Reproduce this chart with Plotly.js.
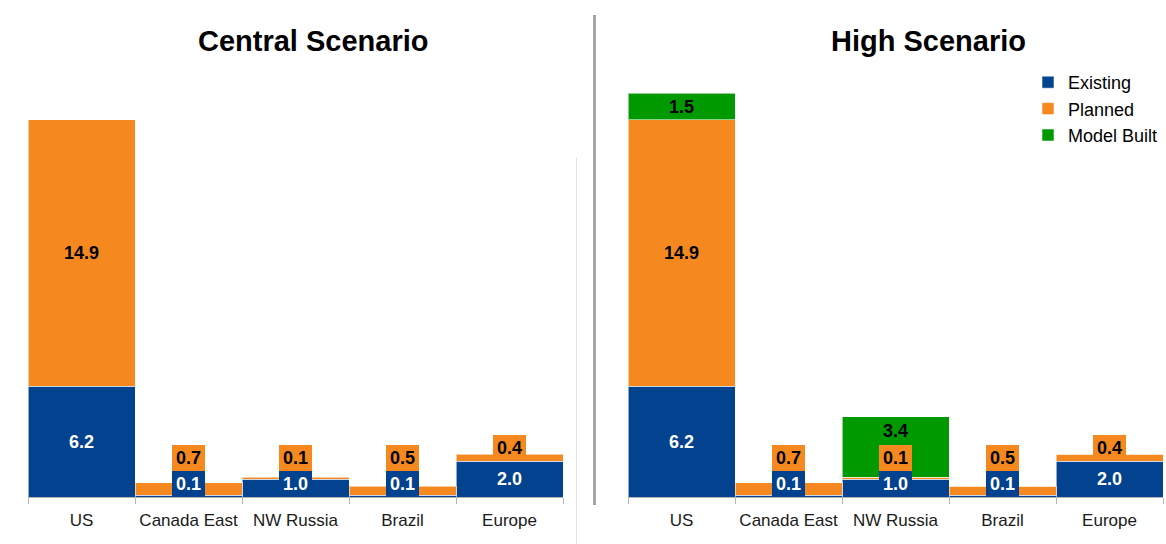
<!DOCTYPE html>
<html>
<head>
<meta charset="utf-8">
<script src="https://cdn.plot.ly/plotly-3.0.1.min.js"></script>
<style>html,body{margin:0;padding:0;background:#fff;}#chart{width:1166px;height:544px;}</style>
</head>
<body>
<div id="chart"></div>
<script>
// ---- data ----
const categories = ['US', 'Canada East', 'NW Russia', 'Brazil', 'Europe'];
const existing = [6.2, 0.1, 1.0, 0.1, 2.0];
const plannedCentral = [14.9, 0.7, 0.1, 0.5, 0.4];
const plannedHigh = [14.9, 0.7, 0.1, 0.5, 0.4];
const modelBuiltHigh = [1.5, 0, 3.4, 0, 0];
const panelTitles = ['Central Scenario', 'High Scenario'];
const seriesNames = ['Existing', 'Planned', 'Model Built'];

// ---- style ----
const W = 1166, H = 544;
const BLUE = '#03428e', ORANGE = '#f58920', GREEN = '#009900';
const FONT = '"Liberation Sans", Arial, sans-serif';
const basePx = 497, topPx = 60, pxPerUnit = 17.87;
const yMax = (basePx - topPx) / pxPerUnit;
const yDomain = [(H - basePx) / H, (H - topPx) / H];

const barLine = {color: 'rgba(255,255,255,0.55)', width: 1};
function bar(name, y, color, xa, ya, showlegend) {
  return {type: 'bar', name: name, x: categories, y: y, xaxis: xa, yaxis: ya,
    marker: {color: color, line: barLine}, showlegend: showlegend,
    legendgroup: name, hoverinfo: 'x+y+name'};
}

const traces = [
  bar(seriesNames[0], existing, BLUE, 'x', 'y', true),
  bar(seriesNames[1], plannedCentral, ORANGE, 'x', 'y', true),
  bar(seriesNames[0], existing, BLUE, 'x2', 'y2', false),
  bar(seriesNames[1], plannedHigh, ORANGE, 'x2', 'y2', false),
  bar(seriesNames[2], modelBuiltHigh, GREEN, 'x2', 'y2', true)
];

// ---- value labels ----
const BOX_W = 33, BOX_H = 26;
function labels(xref, yref, segs) {
  const out = [];
  categories.forEach((c, i) => {
    let cum = 0, cursor = 0;
    segs.forEach(s => {
      const v = s.vals[i];
      if (!v) return;
      const bot = cum * pxPerUnit, top = (cum + v) * pxPerUnit;
      const base = {xref: xref, yref: yref, x: c, showarrow: false, text: v.toFixed(1),
        font: {family: FONT, size: 18, color: s.txt, weight: 'bold'}};
      if (top - bot >= 25) {
        const lo = Math.max(bot, cursor);
        out.push(Object.assign(base, {y: ((lo + top) / 2) / pxPerUnit, yanchor: 'middle'}));
        cursor = top;
      } else {
        out.push(Object.assign(base, {y: cursor / pxPerUnit, yanchor: 'bottom',
          bgcolor: s.color, width: BOX_W, height: BOX_H, borderpad: 0, borderwidth: 0,
          align: 'center', valign: 'middle'}));
        cursor += BOX_H;
      }
      cum += v;
    });
  });
  return out;
}

const annotations = []
  .concat(labels('x', 'y', [
    {vals: existing, color: BLUE, txt: '#ffffff'},
    {vals: plannedCentral, color: ORANGE, txt: '#000000'}]))
  .concat(labels('x2', 'y2', [
    {vals: existing, color: BLUE, txt: '#ffffff'},
    {vals: plannedHigh, color: ORANGE, txt: '#000000'},
    {vals: modelBuiltHigh, color: GREEN, txt: '#000000'}]));

annotations.push({xref: 'paper', yref: 'paper', x: 313 / W, y: (H - 41) / H, xanchor: 'center', yanchor: 'middle',
  showarrow: false, text: panelTitles[0], font: {family: FONT, size: 29, color: '#000', weight: 'bold'}});
annotations.push({xref: 'paper', yref: 'paper', x: 928 / W, y: (H - 41) / H, xanchor: 'center', yanchor: 'middle',
  showarrow: false, text: panelTitles[1], font: {family: FONT, size: 29, color: '#000', weight: 'bold'}});

function xaxis(domain) {
  return {domain: domain, type: 'category', showline: true, linecolor: '#b5b5b5', linewidth: 1,
    ticks: 'outside', tickson: 'boundaries', ticklen: 6, tickcolor: '#b5b5b5',
    ticklabelstandoff: 8, tickangle: 0,
    showgrid: false, zeroline: false, fixedrange: true,
    tickfont: {family: FONT, size: 17, color: '#1a1a1a'}};
}
function yaxis(domain, anchor) {
  return {domain: domain, range: [0, yMax], visible: false, showgrid: false, zeroline: false,
    fixedrange: true, anchor: anchor};
}

const layout = {
  width: W, height: H,
  margin: {l: 0, r: 0, t: 0, b: 0},
  paper_bgcolor: '#ffffff', plot_bgcolor: 'rgba(0,0,0,0)',
  barmode: 'stack', bargap: 0,
  font: {family: FONT},
  xaxis: Object.assign(xaxis([28 / W, 563 / W]), {anchor: 'y'}),
  yaxis: yaxis(yDomain, 'x'),
  xaxis2: Object.assign(xaxis([628 / W, 1163 / W]), {anchor: 'y2'}),
  yaxis2: yaxis(yDomain, 'x2'),
  showlegend: true,
  legend: {x: 1028 / W, y: (H - 64) / H, xanchor: 'left', yanchor: 'top', traceorder: 'normal',
    bgcolor: 'rgba(0,0,0,0)', font: {family: FONT, size: 18, color: '#000'},
    itemwidth: 30, tracegroupgap: 0},
  annotations: annotations,
  shapes: [
    {type: 'line', xref: 'paper', yref: 'paper', x0: 594.5 / W, x1: 594.5 / W, y0: (H - 15) / H, y1: (H - 505) / H,
      line: {color: '#a6a6a6', width: 3}},
    {type: 'line', xref: 'paper', yref: 'paper', x0: 576.5 / W, x1: 576.5 / W, y0: (H - 158) / H, y1: 0,
      line: {color: '#e2e2e2', width: 1}}
  ]
};

Plotly.newPlot('chart', traces, layout, {displayModeBar: false, staticPlot: true});
</script>
</body>
</html>
